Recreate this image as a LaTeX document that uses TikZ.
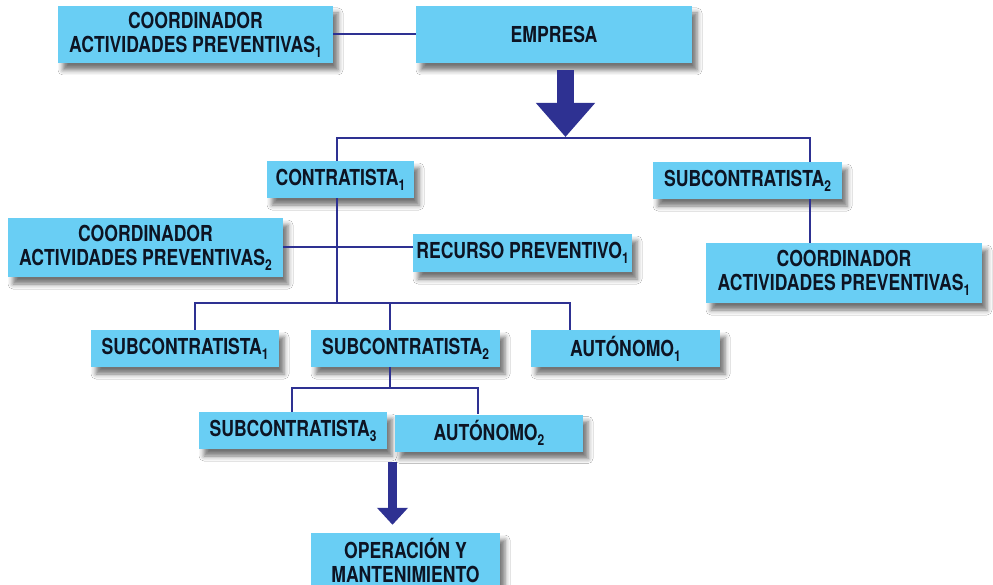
\documentclass[tikz,border=0pt]{standalone}
\usepackage{fontspec}
\newfontfamily\boxfont{TeX Gyre Heros}[FakeStretch=0.8]
\usetikzlibrary{arrows.meta,shadows.blur}
\definecolor{boxcyan}{RGB}{105,206,244}
\definecolor{linkblue}{RGB}{46,49,146}
\definecolor{inkdark}{RGB}{13,20,35}
\newcommand\idx[1]{\raisebox{-5pt}{\fontsize{15}{15}\selectfont #1}}
\tikzset{orgbox/.style={fill=boxcyan,text=inkdark,align=center,inner sep=0pt,minimum height=37pt,
  font=\boxfont\bfseries\fontsize{22}{24}\selectfont,
  blur shadow={shadow xshift=5pt,shadow yshift=-7pt,shadow blur radius=5pt,shadow opacity=55}},
  link/.style={draw=linkblue,line width=2pt},
  bigarrow/.style={linkblue,line width=#1}}
\begin{document}
\begin{tikzpicture}[x=1pt,y=-1pt]
\useasboundingbox[fill=white](0,0)rectangle(993,585);
\node[orgbox,minimum width=275pt,minimum height=57pt](coordA)at(195.5,34.5){COORDINADOR\\ACTIVIDADES PREVENTIVAS\idx{1}};
\node[orgbox,minimum width=276pt,minimum height=57pt](empresa)at(554,34.5){EMPRESA};
\node[orgbox,minimum width=147pt](contr)at(340.5,179.5){CONTRATISTA\idx{1}};
\node[orgbox,minimum width=189pt](subR)at(747.5,180.5){SUBCONTRATISTA\idx{2}};
\node[orgbox,minimum width=275pt,minimum height=59pt](coordB)at(145.5,247.5){COORDINADOR\\ACTIVIDADES PREVENTIVAS\idx{2}};
\node[orgbox,minimum width=219pt,minimum height=38pt](recurso)at(522.5,253){RECURSO PREVENTIVO\idx{1}};
\node[orgbox,minimum width=276pt,minimum height=60pt](coordC)at(844,273){COORDINADOR\\ACTIVIDADES PREVENTIVAS\idx{1}};
\node[orgbox,minimum width=188pt](subA)at(185,348.5){SUBCONTRATISTA\idx{1}};
\node[orgbox,minimum width=189pt](subB)at(405.5,348.5){SUBCONTRATISTA\idx{2}};
\node[orgbox,minimum width=189pt](autA)at(625.5,348.5){AUTÓNOMO\idx{1}};
\node[orgbox,minimum width=188pt](subC)at(293,430.5){SUBCONTRATISTA\idx{3}};
\node[orgbox,minimum width=188pt](autB)at(489,433){AUTÓNOMO\idx{2}};
\node[orgbox,minimum width=189pt,minimum height=54pt](oper)at(405.5,560){OPERACIÓN Y\\MANTENIMIENTO};
\coordinate(topL)at(337,138);\coordinate(topR)at(810,138);\coordinate(bigtip)at(565.5,138);
\coordinate(midL)at(195,303);\coordinate(midC)at(390,303);\coordinate(midR)at(570,303);
\coordinate(lowL)at(292,388);\coordinate(lowR)at(478,388);\coordinate(lowC)at(390,388);
\coordinate(smalltop)at(392.5,462);
\draw[link](coordA.east)--(coordA.east-|empresa.west);
\draw[link](contr.north-|topL)--(topL)--(topR)--(subR.north-|topR);
\draw[link](subR.south-|topR)--(coordC.north-|topR);
\draw[link](contr.south-|topL)--(topL|-midC);
\draw[link](coordB.east)--(coordB.east-|recurso.west);
\draw[link](subA.north-|midL)--(midL)--(midR)--(autA.north-|midR);
\draw[link](midC)--(subB.north-|midC);
\draw[link](subB.south-|lowC)--(lowC);
\draw[link](subC.north-|lowL)--(lowL)--(lowR)--(autB.north-|lowR);
\draw[bigarrow=17pt,-{Triangle[width=57pt,length=34pt]}]([yshift=-7pt]empresa.south-|bigtip)--([yshift=1pt]bigtip);
\draw[bigarrow=9pt,-{Triangle[width=30pt,length=17pt]}](smalltop)--([yshift=8pt]oper.north-|smalltop);
\end{tikzpicture}
\end{document}
